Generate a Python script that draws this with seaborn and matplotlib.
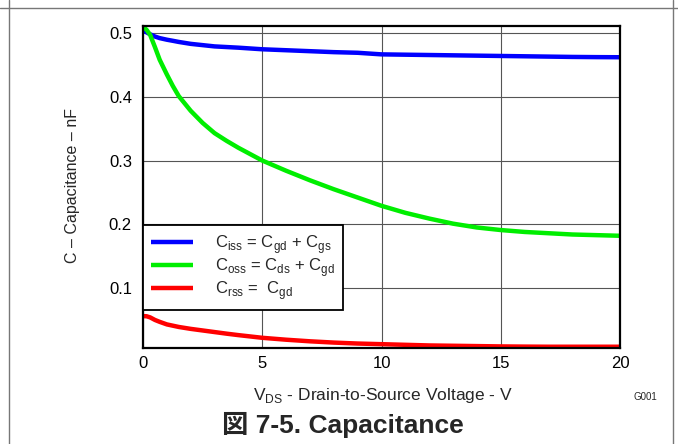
import numpy as np
import pandas as pd
import matplotlib
matplotlib.use("Agg")
import matplotlib.pyplot as plt
import seaborn as sns
from matplotlib.lines import Line2D

# Data
vds = [0, 0.15, 0.3, 0.5, 0.7, 1.0, 1.25, 1.5, 2, 2.5, 3, 3.5, 4, 5, 6, 7, 8, 9, 10, 11, 12, 13, 14, 15,
       16, 17, 18, 19, 20]
ciss = [0.504, 0.501, 0.498, 0.4945, 0.492, 0.4895, 0.4878, 0.486, 0.483, 0.481, 0.479, 0.478, 0.477, 0.4745,
        0.473, 0.4715, 0.470, 0.469, 0.4665, 0.466, 0.4655, 0.465, 0.4645, 0.464, 0.4635, 0.463, 0.4625,
        0.4622, 0.462]
coss = [0.510, 0.505, 0.497, 0.478, 0.458, 0.435, 0.417, 0.401, 0.378, 0.359, 0.343, 0.331, 0.320, 0.300,
        0.284, 0.269, 0.255, 0.242, 0.229, 0.218, 0.209, 0.201, 0.195, 0.191, 0.188, 0.186, 0.184, 0.183,
        0.182]
crss = [0.056, 0.0558, 0.054, 0.050, 0.047, 0.043, 0.041, 0.039, 0.036, 0.0335, 0.031, 0.0285, 0.0262, 0.022,
        0.019, 0.0165, 0.0145, 0.013, 0.012, 0.011, 0.010, 0.0095, 0.009, 0.0085, 0.0082, 0.008, 0.008,
        0.008, 0.008]
series_labels = [r"C$_{\rm iss}$ = C$_{\rm gd}$ + C$_{\rm gs}$",
                 r"C$_{\rm oss}$ = C$_{\rm ds}$ + C$_{\rm gd}$",
                 r"C$_{\rm rss}$ =  C$_{\rm gd}$"]
colors = ["#0000ff", "#00ee00", "#ff0000"]
xticks = [0, 5, 10, 15, 20]
yticks = [0.1, 0.2, 0.3, 0.4, 0.5]

df = pd.DataFrame({
    "V": vds * 3,
    "C": ciss + coss + crss,
    "series": [series_labels[0]] * len(vds) + [series_labels[1]] * len(vds) + [series_labels[2]] * len(vds),
})

sns.set_style("white")
plt.rcParams["font.family"] = ["Liberation Sans", "Noto Sans CJK JP", "DejaVu Sans"]
plt.rcParams["mathtext.fontset"] = "custom"
plt.rcParams["mathtext.rm"] = "Liberation Sans"

fig = plt.figure(figsize=(6.78, 4.44), dpi=100)
ax = fig.add_axes([143/678, (444-348)/444, (620-143)/678, (348-26)/444])

sns.lineplot(data=df, x="V", y="C", hue="series", palette=colors, linewidth=3.2, ax=ax)
for ln in ax.get_lines():
    ln.set_solid_joinstyle("round")
    ln.set_solid_capstyle("butt")

ax.set_xlim(0, 20)
ax.set_ylim(0.006, 0.511)
ax.set_xticks(xticks)
ax.set_yticks(yticks)
ax.set_xticklabels([str(t) for t in xticks], fontsize=12)
ax.set_yticklabels([f"{t:.1f}" for t in yticks], fontsize=12)
ax.tick_params(axis="x", length=0, pad=6, colors="black")
ax.tick_params(axis="y", length=0, pad=8, colors="black")
ax.grid(True, color="#555555", linewidth=0.8)
ax.set_axisbelow(True)
for s in ax.spines.values():
    s.set_color("black")
    s.set_linewidth(1.6)

ax.set_xlabel(r"V$_{\rm DS}$ - Drain-to-Source Voltage - V", fontsize=12.5)
ax.xaxis.set_label_coords(0.503, -0.118)
ax.set_ylabel("C – Capacitance – nF", fontsize=11.5)
ax.yaxis.set_label_coords(-0.132, 0.506)

leg = ax.legend(loc="upper left", bbox_to_anchor=(0.0, 0.382), fontsize=12, frameon=True,
                fancybox=False, edgecolor="black", framealpha=1, handlelength=2.5,
                handletextpad=1.3, labelspacing=0.0, borderpad=0.5, borderaxespad=0)
leg.get_frame().set_linewidth(1.3)
for h in leg.get_lines():
    h.set_linewidth(3.2)

fig.text(645/678, 1 - 397/444, "G001", fontsize=7, ha="center", va="center")
fig.text(343/678, 1 - 425/444, "図 7-5. Capacitance", fontsize=19, fontweight="bold",
         ha="center", va="center")

# page frame lines
fig.add_artist(Line2D([0, 1], [1 - 8/444, 1 - 8/444], color="#777777", linewidth=1.0))
fig.add_artist(Line2D([9/678, 9/678], [0, 1], color="#777777", linewidth=1.0))
fig.add_artist(Line2D([673/678, 673/678], [0, 1], color="#777777", linewidth=1.0))

fig.savefig("out.png", dpi=100)
